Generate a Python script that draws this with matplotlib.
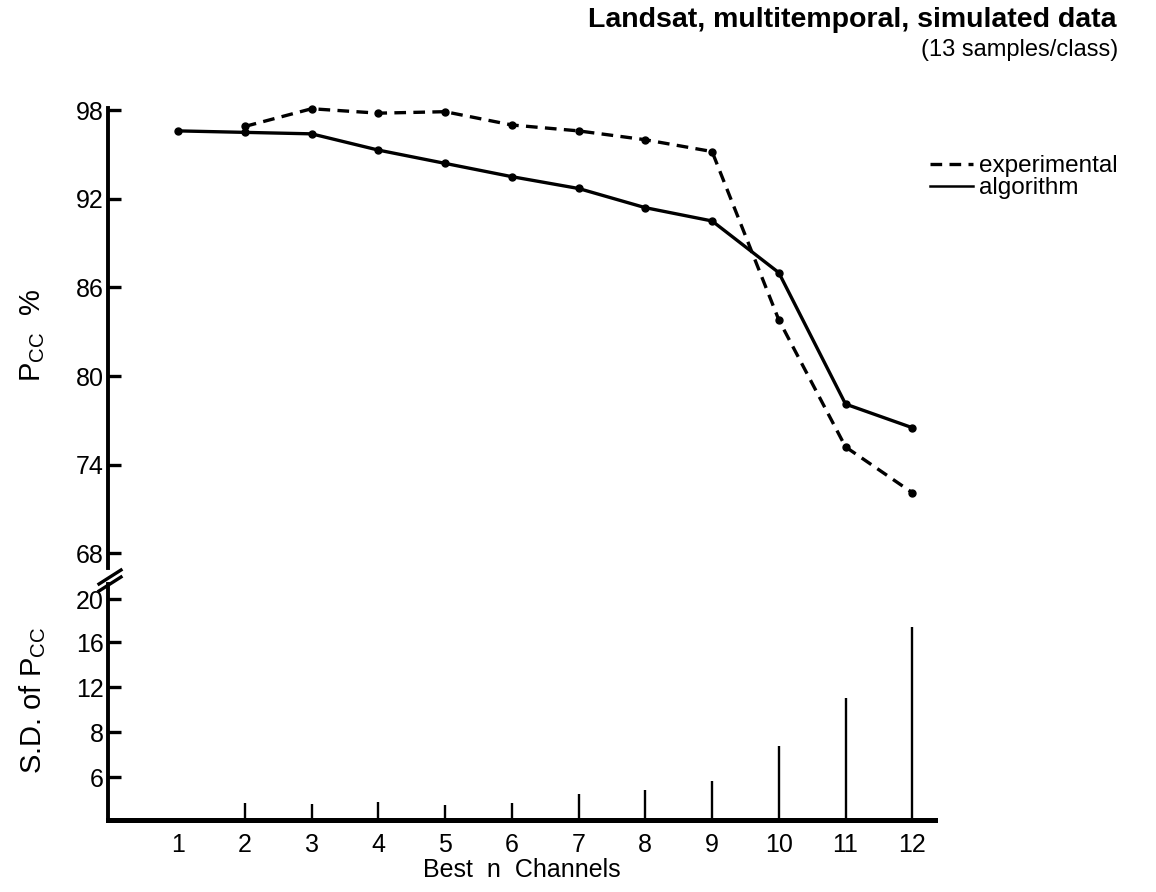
import numpy as np
import matplotlib
matplotlib.use("Agg")
import matplotlib.pyplot as plt
from matplotlib.lines import Line2D

plt.rcParams['font.family'] = ['Liberation Sans', 'DejaVu Sans']
plt.rcParams['mathtext.fontset'] = 'custom'
plt.rcParams['mathtext.rm'] = 'Liberation Sans'
plt.rcParams['mathtext.it'] = 'Liberation Sans'

# ---- data ----
n_algo = [1, 2, 3, 4, 5, 6, 7, 8, 9, 10, 11, 12]
pcc_algorithm = [96.6, 96.5, 96.4, 95.3, 94.4, 93.5, 92.7, 91.4, 90.5, 87.0, 78.1, 76.5]
n_exp = [2, 3, 4, 5, 6, 7, 8, 9, 10, 11, 12]
pcc_experimental = [96.9, 98.1, 97.8, 97.9, 97.0, 96.6, 96.0, 95.2, 83.8, 75.2, 72.1]
n_sd = [2, 3, 4, 5, 6, 7, 8, 9, 10, 11, 12]
sd_pcc = [4.8, 4.75, 4.85, 4.7, 4.8, 5.2, 5.4, 5.8, 7.4, 11.0, 17.4]
pcc_ticks = [68, 74, 80, 86, 92, 98]
sd_ticks = [6, 8, 12, 16, 20]
x_ticks = [1, 2, 3, 4, 5, 6, 7, 8, 9, 10, 11, 12]

# irregular S.D. axis (ticks equally spaced in the original)
sd_knot_val = [0, 4, 6, 8, 12, 16, 20, 24]
sd_knot_pos = [-43, 0, 43, 88, 133, 178, 221, 264]

def sd_fwd(v):
    return np.interp(v, sd_knot_val, sd_knot_pos)

def sd_inv(p):
    return np.interp(p, sd_knot_pos, sd_knot_val)

W, H = 1156, 892
fig = plt.figure(figsize=(W / 100, H / 100), dpi=100)

def box(x0, y0, x1, y1):
    return [x0 / W, 1 - y1 / H, (x1 - x0) / W, (y1 - y0) / H]

ax_top = fig.add_axes(box(108, 108, 935, 568))
ax_bot = fig.add_axes(box(108, 584, 935, 820), sharex=ax_top)

lw = 2.4
ax_top.plot(n_exp, pcc_experimental, color='black', lw=lw, linestyle=(0, (3.5, 2.2)),
            marker='o', markersize=5, clip_on=False)
ax_top.plot(n_algo, pcc_algorithm, color='black', lw=lw, linestyle='-',
            marker='o', markersize=5, clip_on=False)
ax_top.set_ylim(67.0, 98.15)
ax_top.set_xlim(-0.05, 12.34)
ax_top.set_yticks(pcc_ticks)
ax_top.set_yticklabels([str(t) for t in pcc_ticks])
for s in ['top', 'right', 'bottom']:
    ax_top.spines[s].set_visible(False)
ax_top.spines['left'].set_linewidth(2.8)
ax_top.tick_params(axis='y', direction='in', length=9, width=2.4, labelsize=18, pad=3)
ax_top.tick_params(axis='x', bottom=False, labelbottom=False)
ax_top.set_facecolor('none')

ax_bot.set_yscale('function', functions=(sd_fwd, sd_inv))
ax_bot.vlines(n_sd, 4, sd_pcc, color='black', lw=1.7)
ax_bot.set_ylim(4, 21.4)
ax_bot.set_yticks(sd_ticks)
ax_bot.set_yticklabels([str(t) for t in sd_ticks])
ax_bot.yaxis.set_minor_locator(matplotlib.ticker.NullLocator())
for s in ['top', 'right']:
    ax_bot.spines[s].set_visible(False)
ax_bot.spines['left'].set_linewidth(2.8)
ax_bot.spines['bottom'].set_linewidth(3.6)
ax_bot.tick_params(axis='y', direction='in', length=9, width=2.4, labelsize=18, pad=3)
ax_bot.set_xticks(x_ticks)
ax_bot.set_xticklabels([str(t) for t in x_ticks])
ax_bot.tick_params(axis='x', length=0, labelsize=18, pad=9)
ax_bot.set_xlabel('Best  n  Channels', fontsize=18, labelpad=1)
ax_bot.set_facecolor('none')

# axis break marks
for dy in (0, 7):
    fig.add_artist(Line2D([99 / W, 121 / W], [1 - (584 + dy) / H, 1 - (570 + dy) / H],
                          transform=fig.transFigure, color='black', lw=2.4))

# y labels
fig.text(33 / W, 1 - 335 / H, r'P$_{\mathrm{CC}}$  %', rotation=90, fontsize=21,
         ha='center', va='center')
fig.text(33 / W, 1 - 700 / H, r'S.D. of P$_{\mathrm{CC}}$', rotation=90, fontsize=21,
         ha='center', va='center')

# title
fig.text(1116 / W, 1 - 20 / H, 'Landsat, multitemporal, simulated data', fontsize=20.5,
         fontweight='bold', ha='right', va='center')
fig.text(1118 / W, 1 - 50 / H, '(13 samples/class)', fontsize=17,
         ha='right', va='center')

# legend
handles = [Line2D([], [], color='black', lw=lw, linestyle=(0, (3.5, 2.2))),
           Line2D([], [], color='black', lw=1.8, linestyle='-')]
fig.legend(handles, ['experimental', 'algorithm'], loc='upper left',
           bbox_to_anchor=(930 / W, 1 - 155 / H), bbox_transform=fig.transFigure,
           frameon=False, fontsize=17.5, handlelength=1.75, handletextpad=0.25,
           labelspacing=0.0, borderpad=0, borderaxespad=0)

fig.savefig('out.png', dpi=100)
